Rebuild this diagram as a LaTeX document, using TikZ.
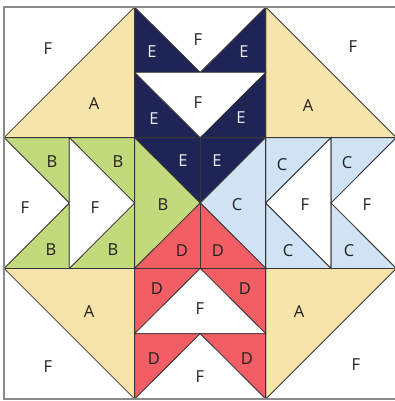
\documentclass[tikz,border=0pt]{standalone}
\usepackage{fontspec}
\setmainfont{Open Sans}
\definecolor{navy}{HTML}{1F2456}
\definecolor{tan}{HTML}{F7E4AA}
\definecolor{leaf}{HTML}{C3DA7C}
\definecolor{sky}{HTML}{CFE3F4}
\definecolor{coral}{HTML}{F15F64}
\definecolor{ink}{HTML}{231F20}
\definecolor{rim}{HTML}{8A8A8A}
\begin{document}
\begin{tikzpicture}[x=1pt,y=-1pt,
  seam/.style={draw=ink!90,line width=0.8pt,line join=miter},
  lab/.style={text=ink,font=\fontsize{16.5}{19}\selectfont,inner sep=0pt},
  wlab/.style={lab,text=white!92!navy}]
\useasboundingbox (0,0) rectangle (395,401);
\fill[white] (0,0) rectangle (395,401);
\def\xa{4}\def\xb{134.6}\def\xc{265.8}\def\xd{396.4}\def\xm{200.2}
\def\ya{7}\def\yb{137.6}\def\yc{268.4}\def\yd{399}\def\ym{203}
% corner A triangles
\filldraw[seam,fill=tan] (\xa,\yb)--(\xb,\ya)--(\xb,\yb)--cycle;
\filldraw[seam,fill=tan] (\xc,\ya)--(\xd,\yb)--(\xc,\yb)--cycle;
\filldraw[seam,fill=tan] (\xa,\yc)--(\xb,\yc)--(\xb,\yd)--cycle;
\filldraw[seam,fill=tan] (\xc,\yc)--(\xd,\yc)--(\xc,\yd)--cycle;
% top middle: geese pointing down
\foreach \t/\b in {\ya/72.3,72.3/\yb}{
  \filldraw[seam,fill=navy] (\xb,\t)--(\xm,\b)--(\xb,\b)--cycle;
  \filldraw[seam,fill=navy] (\xc,\t)--(\xm,\b)--(\xc,\b)--cycle;
  \filldraw[seam,fill=white] (\xb,\t)--(\xc,\t)--(\xm,\b)--cycle;
}
% bottom middle: geese pointing up
\foreach \t/\b in {\yc/333.7,333.7/\yd}{
  \filldraw[seam,fill=coral] (\xb,\t)--(\xm,\t)--(\xb,\b)--cycle;
  \filldraw[seam,fill=coral] (\xc,\t)--(\xm,\t)--(\xc,\b)--cycle;
  \filldraw[seam,fill=white] (\xb,\b)--(\xm,\t)--(\xc,\b)--cycle;
}
% left middle: geese pointing right
\foreach \l/\r in {\xa/69.3,69.3/\xb}{
  \filldraw[seam,fill=leaf] (\l,\yb)--(\r,\yb)--(\r,\ym)--cycle;
  \filldraw[seam,fill=leaf] (\l,\yc)--(\r,\yc)--(\r,\ym)--cycle;
  \filldraw[seam,fill=white] (\l,\yb)--(\r,\ym)--(\l,\yc)--cycle;
}
% right middle: geese pointing left
\foreach \l/\r in {\xc/331.1,331.1/\xd}{
  \filldraw[seam,fill=sky] (\l,\yb)--(\r,\yb)--(\l,\ym)--cycle;
  \filldraw[seam,fill=sky] (\l,\yc)--(\r,\yc)--(\l,\ym)--cycle;
  \filldraw[seam,fill=white] (\r,\yb)--(\l,\ym)--(\r,\yc)--cycle;
}
% centre square
\filldraw[seam,fill=navy] (\xb,\yb)--(\xc,\yb)--(\xm,\ym)--cycle;
\filldraw[seam,fill=leaf] (\xb,\yb)--(\xm,\ym)--(\xb,\yc)--cycle;
\filldraw[seam,fill=sky] (\xc,\yb)--(\xc,\yc)--(\xm,\ym)--cycle;
\filldraw[seam,fill=coral] (\xb,\yc)--(\xc,\yc)--(\xm,\ym)--cycle;
\draw[seam] (\xm,\yb)--(\xm,\yc);
% grid
\draw[seam] (\xb,\ya)--(\xb,\yd) (\xc,\ya)--(\xc,\yd) (\xa,\yb)--(\xd,\yb) (\xa,\yc)--(\xd,\yc);
% outer rim
\draw[draw=rim,line width=1.6pt] (\xa,\ya) rectangle (\xd,\yd);
% labels
\node[lab] (ftl) at (48,49) {F};
\node[lab] (atl) at (94,104) {A};
\node[lab] (ftr) at (353,47) {F};
\node[lab] (atr) at (308,106) {A};
\node[wlab] (e1) at (152,52) {E};
\node[lab] (f1) at (198,40) {F};
\node[wlab] (e2) at (244,52) {E};
\node[wlab] (e3) at (154,119) {E};
\node[lab] (f2) at (198,103) {F};
\node[wlab] (e4) at (241,118) {E};
\node[wlab] (e5) at (183,161) {E};
\node[wlab] (e6) at (217,161) {E};
\node[lab] (bc) at (163,205) {B};
\node[lab] (cc) at (237,205) {C};
\node[lab] (d1) at (182,251) {D};
\node[lab] (d2) at (218,251) {D};
\node[lab] (b1) at (52,162) {B};
\node[lab] (b2) at (118,162) {B};
\node[lab] (f3) at (25,208) {F};
\node[lab] (f4) at (95,208) {F};
\node[lab] (b3) at (51,250) {B};
\node[lab] (b4) at (113,250) {B};
\node[lab] (c1) at (282,165) {C};
\node[lab] (c2) at (347,163) {C};
\node[lab] (f5) at (305,205) {F};
\node[lab] (f6) at (367,205) {F};
\node[lab] (c3) at (288,251) {C};
\node[lab] (c4) at (349,251) {C};
\node[lab] (d3) at (157,289) {D};
\node[lab] (d4) at (245,289) {D};
\node[lab] (f7) at (200,309) {F};
\node[lab] (d5) at (154,359) {D};
\node[lab] (d6) at (247,359) {D};
\node[lab] (f8) at (200,377) {F};
\node[lab] (abl) at (89,312) {A};
\node[lab] (fbl) at (48,367) {F};
\node[lab] (abr) at (299,312) {A};
\node[lab] (fbr) at (356,365) {F};
\end{tikzpicture}
\end{document}
